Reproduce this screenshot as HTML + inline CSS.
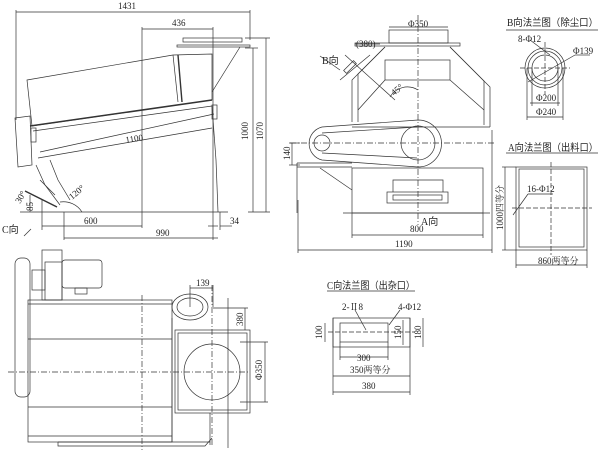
<!DOCTYPE html>
<html><head><meta charset="utf-8"><style>
html,body{margin:0;padding:0;background:#fff;}
svg{display:block;}
text{font-family:"Liberation Serif","Noto Serif CJK SC",serif;fill:#222;font-size:9px;}
.t{font-family:"Liberation Serif","Noto Sans CJK SC",sans-serif;font-size:10px;}
</style></head><body>
<svg width="600" height="451" viewBox="0 0 600 451" xmlns="http://www.w3.org/2000/svg">
<g fill="none" stroke="#333" stroke-width="0.7">
<line x1="16" y1="12" x2="250" y2="12"/><line x1="16" y1="10" x2="16" y2="120"/><line x1="250" y1="10" x2="250" y2="40"/>
<line x1="142" y1="29" x2="213" y2="29"/><line x1="142" y1="27" x2="142" y2="228"/><line x1="213" y1="27" x2="213" y2="240"/>
<rect x="183" y="38" width="59" height="4"/><rect x="177" y="45" width="73" height="2"/>
<line x1="240" y1="47" x2="212" y2="92"/>
<polygon points="27,80 173,55 212,54 212,100 32,126"/>
<line x1="173" y1="55" x2="178" y2="102"/><line x1="178" y1="55" x2="182" y2="102" stroke-width="1.4"/>
<line x1="30" y1="126" x2="212" y2="100" stroke-width="1.6"/>
<line x1="33" y1="131" x2="212" y2="106"/>
<line x1="38" y1="158" x2="212" y2="128"/>
<line x1="40" y1="152" x2="214" y2="114"/>
<polygon points="15,118 30,116 32,165 18,167"/>
<rect x="31" y="128" width="5" height="14"/><rect x="212" y="105" width="5" height="14"/>
<line x1="212" y1="106" x2="216" y2="160"/><line x1="216" y1="160" x2="218" y2="212"/>
<polyline points="36,165 45,185 60,205"/><polyline points="50,160 58,180 70,200"/>
<line x1="25" y1="191" x2="57" y2="207" stroke-width="1.4"/>
<line x1="40" y1="180" x2="55" y2="195"/>
<path d="M60,202 A22,22 0 0 1 82,212"/>
<line x1="20" y1="212" x2="228" y2="212"/>
<line x1="253" y1="48" x2="253" y2="212"/><line x1="266" y1="38" x2="266" y2="212"/>
<line x1="245" y1="48" x2="258" y2="48"/><line x1="245" y1="38" x2="270" y2="38"/>
<line x1="248" y1="212" x2="270" y2="212"/>
<line x1="42" y1="226" x2="142" y2="226"/><line x1="42" y1="200" x2="42" y2="230"/>
<line x1="64" y1="238" x2="218" y2="238"/><line x1="64" y1="212" x2="64" y2="240"/>
<line x1="208" y1="226" x2="218" y2="226"/><line x1="220" y1="226" x2="232" y2="226"/><line x1="220" y1="212" x2="220" y2="230"/>
<line x1="30" y1="195" x2="30" y2="212"/>
<line x1="24" y1="236" x2="31" y2="229"/>
<line x1="418" y1="15" x2="418" y2="225" stroke-dasharray="6,2,1,2"/>
<line x1="290" y1="143" x2="495" y2="143" stroke-dasharray="6,2,1,2"/>
<rect x="389" y="30" width="59" height="13"/>
<line x1="389" y1="27" x2="448" y2="27"/>
<rect x="355" y="43" width="105" height="3"/>
<polyline points="385,47 352,80 352,122"/><polyline points="450,47 490,87 490,127"/>
<polyline points="385,47 358,74 358,122"/><polyline points="450,47 484,81 484,125"/>
<rect x="385" y="60" width="65" height="20"/>
<line x1="385" y1="80" x2="358" y2="110"/><line x1="450" y1="80" x2="484" y2="110"/>
<line x1="352" y1="127" x2="490" y2="127"/>
<line x1="345" y1="55" x2="395" y2="100"/><line x1="340" y1="80" x2="370" y2="55"/>
<path d="M390,97 A20,20 0 0 1 418,90"/>
<rect x="343" y="65" width="14" height="4" transform="rotate(-45 350 67)"/>
<line x1="320" y1="56" x2="340" y2="70"/>
<path d="M322,127 L418,120 A23,23 0 0 1 418,167 L322,160 A17,17 0 0 1 322,127 Z"/>
<line x1="322" y1="133" x2="417" y2="127"/><line x1="322" y1="153" x2="417" y2="158"/>
<circle cx="322" cy="143" r="8"/><circle cx="418" cy="143" r="17"/>
<rect x="352" y="168" width="131" height="45"/>
<line x1="297" y1="163" x2="352" y2="163"/><line x1="297" y1="163" x2="297" y2="213"/>
<line x1="297" y1="167" x2="352" y2="167"/>
<line x1="320" y1="168" x2="352" y2="190"/>
<rect x="387" y="192" width="61" height="11"/><rect x="393" y="195" width="49" height="5"/>
<polyline points="393,192 393,180 443,180 443,192"/>
<line x1="343" y1="213" x2="490" y2="213"/>
<line x1="352" y1="235" x2="483" y2="235"/><line x1="352" y1="213" x2="352" y2="238"/><line x1="483" y1="213" x2="483" y2="238"/>
<line x1="298" y1="250" x2="492" y2="250"/><line x1="298" y1="200" x2="298" y2="253"/><line x1="492" y1="130" x2="492" y2="253"/>
<line x1="292" y1="143" x2="292" y2="165"/><line x1="289" y1="143" x2="300" y2="143"/><line x1="289" y1="165" x2="300" y2="165"/>
<line x1="355" y1="44" x2="380" y2="44"/>
<line x1="545" y1="42" x2="545" y2="95" stroke-dasharray="5,2"/><line x1="520" y1="68" x2="570" y2="68" stroke-dasharray="5,2"/>
<circle cx="545" cy="68" r="20"/><circle cx="545" cy="68" r="17"/><circle cx="545" cy="68" r="13"/>
<line x1="528" y1="82" x2="575" y2="55"/><line x1="575" y1="55" x2="590" y2="55"/>
<line x1="530" y1="40" x2="550" y2="55"/>
<line x1="532" y1="68" x2="532" y2="106"/><line x1="558" y1="68" x2="558" y2="106"/>
<line x1="530" y1="103" x2="560" y2="103"/>
<line x1="527" y1="68" x2="527" y2="120"/><line x1="563" y1="68" x2="563" y2="120"/>
<line x1="527" y1="117" x2="563" y2="117"/>
<line x1="506" y1="30" x2="598" y2="30"/>
<rect x="516" y="167" width="71" height="83"/><rect x="519" y="169" width="65" height="78"/>
<line x1="551" y1="162" x2="551" y2="255" stroke-dasharray="5,2"/><line x1="512" y1="208" x2="592" y2="208" stroke-dasharray="5,2"/>
<line x1="505" y1="167" x2="505" y2="250"/><line x1="502" y1="167" x2="516" y2="167"/><line x1="502" y1="250" x2="516" y2="250"/>
<line x1="516" y1="250" x2="516" y2="268"/><line x1="587" y1="250" x2="587" y2="268"/><line x1="516" y1="265" x2="587" y2="265"/>
<line x1="513" y1="215" x2="528" y2="194"/><line x1="528" y1="194" x2="553" y2="194"/>
<line x1="506" y1="153" x2="598" y2="153"/>
<rect x="333" y="318" width="77" height="29"/><rect x="340" y="323" width="48" height="19"/>
<line x1="328" y1="332" x2="415" y2="332" stroke-dasharray="5,2"/>
<line x1="333" y1="318" x2="333" y2="395"/><line x1="410" y1="318" x2="410" y2="395"/>
<line x1="340" y1="342" x2="340" y2="360"/><line x1="388" y1="342" x2="388" y2="360"/>
<line x1="340" y1="357" x2="388" y2="357"/><line x1="333" y1="376" x2="410" y2="376"/><line x1="333" y1="392" x2="410" y2="392"/>
<line x1="325" y1="323" x2="325" y2="342"/><line x1="403" y1="320" x2="403" y2="345"/><line x1="423" y1="318" x2="423" y2="347"/>
<line x1="355" y1="310" x2="366" y2="330"/><line x1="400" y1="310" x2="389" y2="325"/>
<line x1="327" y1="291" x2="415" y2="291"/>
<line x1="8" y1="372" x2="250" y2="372" stroke-dasharray="6,2,1,2"/>
<line x1="142" y1="295" x2="142" y2="450" stroke-dasharray="6,2,1,2"/>
<line x1="212" y1="285" x2="212" y2="445" stroke-dasharray="6,2,1,2"/>
<rect x="15" y="258" width="15" height="139" rx="6"/>
<rect x="42" y="250" width="20" height="50"/>
<rect x="45" y="262" width="17" height="38"/>
<rect x="62" y="260" width="40" height="28" rx="3"/>
<rect x="32" y="270" width="13" height="20"/>
<rect x="75" y="288" width="12" height="6"/>
<rect x="28" y="300" width="144" height="142"/>
<line x1="28" y1="304" x2="172" y2="304"/>
<line x1="28" y1="339" x2="172" y2="339"/><line x1="28" y1="407" x2="172" y2="407"/>
<line x1="28" y1="436" x2="172" y2="436"/>
<line x1="58" y1="442" x2="210" y2="442"/><polyline points="58,442 58,446 205,446 212,438"/>
<ellipse cx="190" cy="307" rx="18" ry="13"/><ellipse cx="190" cy="307" rx="13" ry="9"/>
<line x1="172" y1="318" x2="172" y2="442"/>
<rect x="175" y="330" width="75" height="83"/><rect x="178" y="333" width="69" height="77"/>
<circle cx="212" cy="372" r="28"/>
<line x1="228" y1="298" x2="228" y2="448"/><line x1="210" y1="413" x2="210" y2="445"/>
<line x1="190" y1="288" x2="213" y2="288"/><line x1="190" y1="285" x2="190" y2="307"/><line x1="213" y1="285" x2="213" y2="307"/>
<line x1="245" y1="308" x2="245" y2="330"/><line x1="213" y1="308" x2="248" y2="308"/>
<line x1="265" y1="342" x2="265" y2="402"/><line x1="240" y1="342" x2="268" y2="342"/><line x1="240" y1="402" x2="268" y2="402"/>
</g>
<text x="118" y="9">1431</text>
<text x="172" y="26">436</text>
<text x="126" y="143" transform="rotate(-9 126 143)">1100</text>
<text x="248" y="140" transform="rotate(-90 248 140)">1000</text>
<text x="263" y="140" transform="rotate(-90 263 140)">1070</text>
<text x="84" y="224">600</text>
<text x="156" y="236">990</text>
<text x="230" y="224">34</text>
<text x="72" y="200" transform="rotate(-40 72 200)">120°</text>
<text x="20" y="204" transform="rotate(-60 20 204)">30°</text>
<text x="33" y="211" transform="rotate(-90 33 211)">85</text>
<text class="t" x="2" y="233">C向</text>
<text x="408" y="27">Φ350</text>
<text x="356" y="47">(380)</text>
<text class="t" x="322" y="64">B向</text>
<text x="394" y="96" transform="rotate(-40 394 96)">45°</text>
<text x="290" y="160" transform="rotate(-90 290 160)">140</text>
<text class="t" x="421" y="225">A向</text>
<text x="410" y="232">800</text>
<text x="395" y="247">1190</text>
<text class="t" x="507" y="26" textLength="91" lengthAdjust="spacingAndGlyphs">B向法兰图（除尘口）</text>
<text x="518" y="42">8-Φ12</text>
<text x="573" y="54">Φ139</text>
<text x="536" y="101">Φ200</text>
<text x="536" y="115">Φ240</text>
<text class="t" x="508" y="151" textLength="90" lengthAdjust="spacingAndGlyphs">A向法兰图（出料口）</text>
<text x="527" y="192">16-Φ12</text>
<text x="503" y="230" transform="rotate(-90 503 230)">1000四等分</text>
<text x="538" y="264">860两等分</text>
<text class="t" x="327" y="289" textLength="88" lengthAdjust="spacingAndGlyphs">C向法兰图（出杂口）</text>
<text x="342" y="310">2-Ⅱ8</text>
<text x="398" y="310">4-Φ12</text>
<text x="322" y="339" transform="rotate(-90 322 339)">100</text>
<text x="401" y="339" transform="rotate(-90 401 339)">150</text>
<text x="421" y="339" transform="rotate(-90 421 339)">180</text>
<text x="357" y="361">300</text>
<text x="350" y="373">350两等分</text>
<text x="362" y="389">380</text>
<text x="196" y="286">139</text>
<text x="243" y="326" transform="rotate(-90 243 326)">380</text>
<text x="262" y="380" transform="rotate(-90 262 380)">Φ350</text>
</svg>
</body></html>
